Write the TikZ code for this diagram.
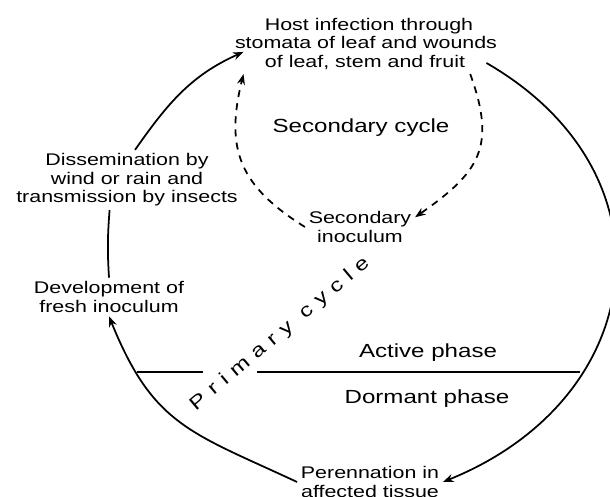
\documentclass[tikz,border=0pt]{standalone}
\usepackage{fontspec}
\setmainfont[FakeStretch=1.27]{Liberation Sans}
\newfontfamily\spacedfont[FakeStretch=1.27,LetterSpace=40]{Liberation Sans}
\usetikzlibrary{arrows.meta}
\tikzset{
  txt/.style={
    % The text:
    align=center,inner sep=2pt,
    font=\fontsize{9.6}{10.5}\selectfont},
  bigtxt/.style={
    txt,font=\fontsize{10.8}{12}\selectfont},
  cyc/.style={
    % The line:
    line width=1pt,
    -{Stealth[length=6pt,width=4.5pt]}},
  seccyc/.style={
    cyc,dash pattern=on 4pt off 3.5pt}}

\begin{document}
\begin{tikzpicture}[x=0.02cm,y=0.02cm]
	\useasboundingbox (0,0) rectangle (610,497);
	% Host lines
	\node[txt,anchor=base] (hosta) at (369,466) {Host infection through};
	\node[txt,anchor=base] (hostb) at (366,448) {stomata of leaf and wounds};
	\node[txt,anchor=base,inner xsep=12pt] (hostc) at (365,429) {of leaf, stem and fruit};
	% Stages
	\node[txt] (dissem) at (127,317) {Dissemination by\\wind or rain and\\transmission by insects};
	\node[txt] (develop) at (109,200) {Development of\\fresh inoculum};
	\node[txt] (perenn) at (370,15) {Perennation in\\affected tissue};
	\node[txt] (secinoc) at (360,270) {Secondary\\inoculum};
	\node[bigtxt] (seccycle) at (361,369) {Secondary cycle};
	\node[bigtxt] (active) at (428,144) {Active phase};
	\node[bigtxt] (dormant) at (427,98) {Dormant phase};
	\node[rotate=40,font=\spacedfont\fontsize{10.8}{12}\selectfont] (primary) at (280,163) {Primary cycle};
	% Primary cycle
	\draw[cyc] (hostc.east) to[out=-30,in=22,looseness=1.35] (perenn.east);
	\draw[cyc] (perenn.west) to[out=155,in=-68,looseness=1.2] (develop.south);
	\draw[line width=1pt] (develop.north) to[bend left=4] (dissem.240);
	\draw[cyc] (dissem.75) to[out=55,in=204] (hostc.north west);
	% Secondary cycle
	\draw[seccyc] (hostc.-6) to[out=-70,in=35,looseness=1.3] (secinoc.10);
	\draw[seccyc] (secinoc.west) to[out=148,in=-104,looseness=1.2] (hostc.south west);
	% Active / dormant divider
	\draw[line width=1pt] (137,125) -- (203,125) (257,125) -- (580,125);
\end{tikzpicture}
\end{document}
